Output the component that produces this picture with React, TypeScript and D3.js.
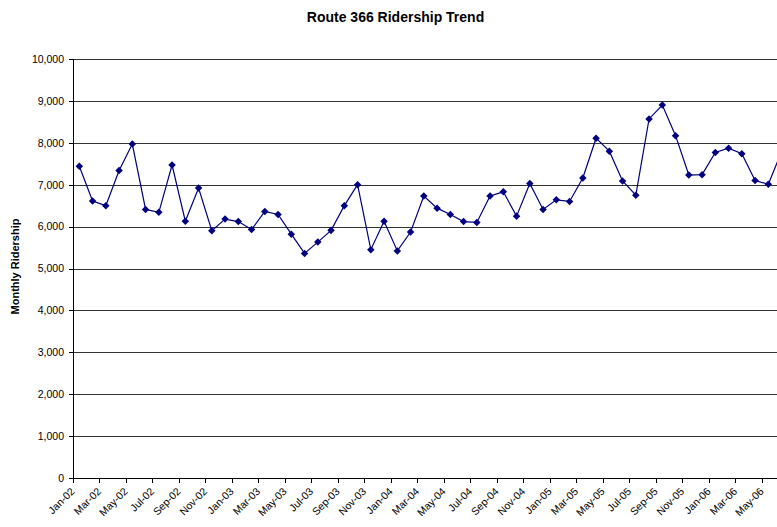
import React, { useEffect, useRef } from "react";
import * as d3 from "d3";

const WIDTH = 777;
const HEIGHT = 527;

const TITLE = "Route 366 Ridership Trend";
const Y_TITLE = "Monthly Ridership";

// Monthly ridership, Jan 2002 through Jun 2006
const years = ["02", "03", "04", "05", "06"];
const monthNames = ["Jan", "Feb", "Mar", "Apr", "May", "Jun", "Jul", "Aug", "Sep", "Oct", "Nov", "Dec"];
const ridership2002 = [7440, 6610, 6500, 7340, 7970, 6410, 6340, 7470, 6130, 6920, 5900, 6180];
const ridership2003 = [6120, 5930, 6360, 6290, 5820, 5360, 5630, 5910, 6500, 7000, 5450, 6130];
const ridership2004 = [5420, 5870, 6730, 6440, 6290, 6120, 6100, 6730, 6830, 6250, 7030, 6410];
const ridership2005 = [6640, 6600, 7160, 8110, 7800, 7090, 6750, 8570, 8900, 8170, 7230, 7240];
const ridership2006 = [7770, 7870, 7740, 7100, 7010, 7790];
const yTicks = [0, 1000, 2000, 3000, 4000, 5000, 6000, 7000, 8000, 9000, 10000];

const seriesByYear = [ridership2002, ridership2003, ridership2004, ridership2005, ridership2006];
const data = seriesByYear.flatMap((vals, yi) =>
  vals.map((v, mi) => ({ month: `${monthNames[mi]}-${years[yi]}`, value: v }))
);

export default function App() {
  const ref = useRef<SVGSVGElement | null>(null);

  useEffect(() => {
    const svg = d3.select(ref.current);
    svg.selectAll("*").remove();

    const left = 72.7;
    const step = 13.25;
    const x = d3
      .scaleBand<string>()
      .domain(data.map((d) => d.month))
      .range([left, left + step * data.length]);
    const y = d3.scaleLinear().domain([0, 10000]).range([478, 59]);
    const font = "'Liberation Sans', Arial, sans-serif";

    // horizontal gridlines
    svg
      .append("g")
      .selectAll("line")
      .data(yTicks.slice(1))
      .join("line")
      .attr("x1", left)
      .attr("x2", WIDTH)
      .attr("y1", (d) => Math.round(y(d)) + 0.5)
      .attr("y2", (d) => Math.round(y(d)) + 0.5)
      .attr("stroke", "#333")
      .attr("stroke-width", 1);

    // y axis
    const yAxis = svg.append("g");
    yAxis
      .append("line")
      .attr("x1", Math.round(left) + 0.5)
      .attr("x2", Math.round(left) + 0.5)
      .attr("y1", y(10000))
      .attr("y2", Math.round(y(0)) + 0.5)
      .attr("stroke", "#000");
    yAxis
      .selectAll("line.tick")
      .data(yTicks)
      .join("line")
      .attr("class", "tick")
      .attr("x1", Math.round(left) - 4)
      .attr("x2", Math.round(left) + 0.5)
      .attr("y1", (d) => Math.round(y(d)) + 0.5)
      .attr("y2", (d) => Math.round(y(d)) + 0.5)
      .attr("stroke", "#000");
    yAxis
      .selectAll("text")
      .data(yTicks)
      .join("text")
      .attr("x", 64)
      .attr("y", (d) => y(d) + 3.8)
      .attr("text-anchor", "end")
      .attr("font-family", font)
      .attr("font-size", 10.5)
      .attr("fill", "#000")
      .text((d) => d3.format(",")(d));

    // x axis
    const xAxis = svg.append("g");
    xAxis
      .append("line")
      .attr("x1", left)
      .attr("x2", WIDTH)
      .attr("y1", Math.round(y(0)) + 0.5)
      .attr("y2", Math.round(y(0)) + 0.5)
      .attr("stroke", "#000");
    const labelled = data.filter((_, i) => i % 2 === 0);
    xAxis
      .selectAll("line.tick")
      .data(labelled)
      .join("line")
      .attr("class", "tick")
      .attr("x1", (d) => Math.round(x(d.month)!) + 0.5)
      .attr("x2", (d) => Math.round(x(d.month)!) + 0.5)
      .attr("y1", Math.round(y(0)))
      .attr("y2", Math.round(y(0)) + 5)
      .attr("stroke", "#000");
    xAxis
      .selectAll("text")
      .data(labelled)
      .join("text")
      .attr("transform", (d) => {
        const cx = x(d.month)! + x.bandwidth() / 2 - 4;
        return `translate(${cx},${492}) rotate(-45)`;
      })
      .attr("text-anchor", "end")
      .attr("font-family", font)
      .attr("font-size", 10.5)
      .attr("fill", "#000")
      .text((d) => d.month);

    // series line and diamond markers
    const cx = (d: { month: string }) => x(d.month)! + x.bandwidth() / 2;
    const line = d3
      .line<{ month: string; value: number }>()
      .x(cx)
      .y((d) => y(d.value));
    svg
      .append("path")
      .datum(data)
      .attr("d", line)
      .attr("fill", "none")
      .attr("stroke", "#000080")
      .attr("stroke-width", 1.2);
    const diamond = d3.symbol().type(d3.symbolDiamond2).size(36);
    svg
      .append("g")
      .selectAll("path")
      .data(data)
      .join("path")
      .attr("transform", (d) => `translate(${cx(d)},${y(d.value)})`)
      .attr("d", diamond)
      .attr("fill", "#000080");

    // titles
    svg
      .append("text")
      .attr("x", 395.5)
      .attr("y", 22)
      .attr("text-anchor", "middle")
      .attr("font-family", font)
      .attr("font-weight", "bold")
      .attr("font-size", 14)
      .attr("fill", "#000")
      .text(TITLE);
    svg
      .append("text")
      .attr("transform", `translate(19,266.5) rotate(-90)`)
      .attr("text-anchor", "middle")
      .attr("font-family", font)
      .attr("font-weight", "bold")
      .attr("font-size", 11)
      .attr("fill", "#000")
      .text(Y_TITLE);
  }, []);

  return (
    <svg
      ref={ref}
      width={WIDTH}
      height={HEIGHT}
      style={{ position: "absolute", left: 0, top: 0, background: "#fff" }}
    />
  );
}
